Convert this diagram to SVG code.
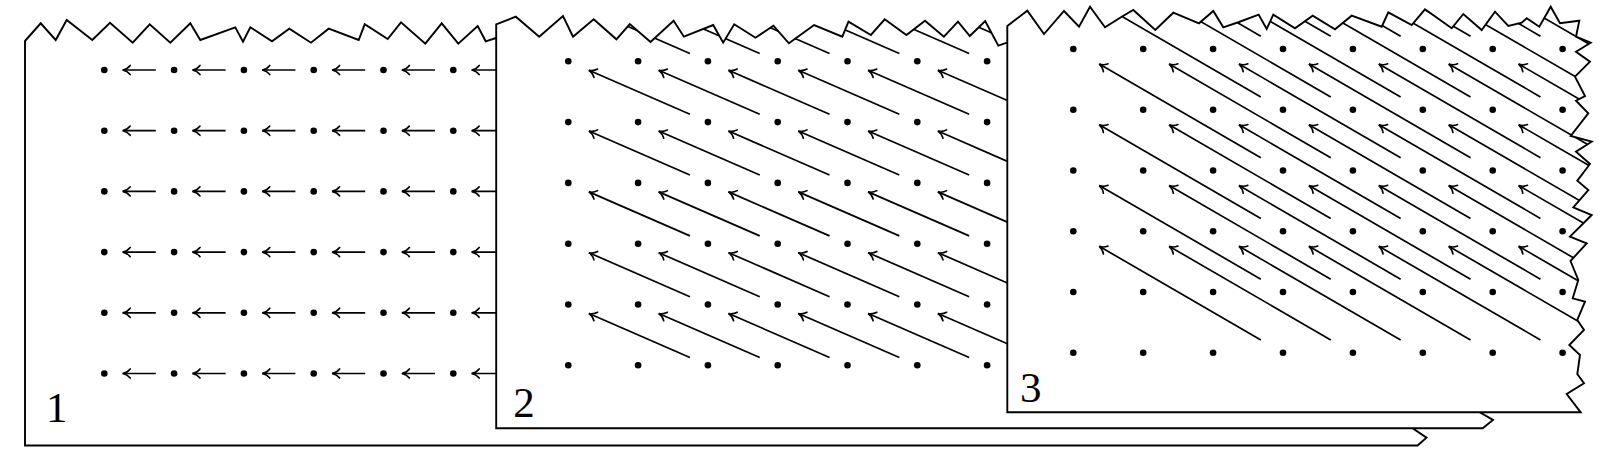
<svg xmlns="http://www.w3.org/2000/svg" xmlns:xlink="http://www.w3.org/1999/xlink" width="1604" height="462" viewBox="0 0 1604 462">
<style>
.panel{fill:#fff;stroke:#000;stroke-width:1.9;stroke-linejoin:miter}
.dot{fill:#000}
.arr{stroke:#000;stroke-width:1.7;fill:none;marker-end:url(#ah)}
.lbl{font-family:"Liberation Serif",serif;font-size:43px;text-anchor:middle;fill:#000}
</style>
<defs>
<marker id="ah" markerUnits="userSpaceOnUse" viewBox="-10 -6 12 12" markerWidth="12" markerHeight="12" refX="0" refY="0" orient="auto" overflow="visible">
<path d="M-7.5,-4.6 C-5.5,-2 -2.5,-0.5 0,0 C-2.5,0.5 -5.5,2 -7.5,4.6" fill="none" stroke="#000" stroke-width="1.6" stroke-linecap="round"/>
</marker>
<path id="s1" d="M25,41 L40.7,23.3 55.7,40 66.7,20 92.3,40 110,22.7 132.7,42.7 149.7,24.3 170.3,42.7 190.3,23.3 200.3,40 235.3,27.3 243,41.7 250.3,27.3 272,41.3 289.3,28.7 311,42.7 328.7,28.7 358.7,40 364.7,24.3 387.7,39 401,22.3 425.3,43.7 441.7,23.3 458.3,43.7 477.7,26 485.7,41.3 496,38 505,52 1405,52 1406.4,424 1426.5,437.7 1417.5,445.5 25,445.5 Z"/>
<path id="s2" d="M496.2,24.3 L515.8,16.7 539.2,36.7 563,16 573,36.7 593.7,19.3 616.4,39.3 629.8,24 650.5,42 673.6,20.7 683.9,36.7 713.2,25 723.2,42.7 734.2,24.3 755.5,37.7 773.4,25.7 788.9,43.3 814.1,25 842.3,36.7 848.5,21.7 870.9,35 884.7,19.3 906.4,35 925,20.7 943.9,36.7 958,21.7 969.8,36 985.2,21 998.3,45.7 1006.9,42.7 1020,48 1470,48 1467.3,405 1493,420 1482.7,428.3 496.2,428.3 Z"/>
<path id="s3" d="M1007.3,26 L1027.3,10.7 1044,34 1064,11 1079,26.7 1090,6.7 1105,27.3 1121.7,16.7 1133.3,10 1155.3,30 1173.3,12.7 1199,23.3 1213.3,11 1223.3,27.3 1239,22 1258.7,14.7 1266.7,29 1273.3,14.7 1295,28.3 1312.7,15.7 1335,29.3 1351.7,15.7 1381.7,26.7 1388.3,12.3 1411.7,25 1425,9.3 1451.7,28.3 1463.3,14 1481.7,30 1495,11.7 1508.3,26 1521.7,22.7 1526.7,18.3 1539.3,26.7 1550.7,6.7 1560,23.3 1579.3,20.7 1576,36.7 1590.7,42.7 1576,51.7 1590,61.7 1575,76.7 1585,96 1576,100.7 1588.3,113.3 1570.7,136 1591.7,141.7 1576,151.7 1590,164 1577.3,180.7 1588.3,190 1573.3,207.3 1591.7,215 1570,236.7 1586.7,243.3 1570.5,261 1578.3,280 1572.7,298.3 1585,301.7 1577.3,320 1584,330 1569.3,345 1580,355 1577.3,374 1584,383.3 1566.7,394 1580.7,412.3 1007.3,412.3 Z"/>
<clipPath id="cp2"><use xlink:href="#s2"/></clipPath>
<clipPath id="cp3"><use xlink:href="#s3"/></clipPath>
<line id="a1" class="arr" x1="-18.3" y1="0" x2="-51.4" y2="0"/>
<line id="a2" class="arr" x1="-17.97" y1="-7.83" x2="-118.97" y2="-51.82"/>
<line id="a3" class="arr" x1="-22.15" y1="-12.83" x2="-183.74" y2="-106.46"/>
<circle id="d" class="dot" r="3.3"/>
</defs>

<g id="panel1">
<use xlink:href="#s1" class="panel"/>
<g class="dots">
<use xlink:href="#d" x="104.3" y="70"/><use xlink:href="#d" x="174.1" y="70"/><use xlink:href="#d" x="243.9" y="70"/><use xlink:href="#d" x="313.7" y="70"/><use xlink:href="#d" x="383.5" y="70"/><use xlink:href="#d" x="453.3" y="70"/>
<use xlink:href="#d" x="104.3" y="130.7"/><use xlink:href="#d" x="174.1" y="130.7"/><use xlink:href="#d" x="243.9" y="130.7"/><use xlink:href="#d" x="313.7" y="130.7"/><use xlink:href="#d" x="383.5" y="130.7"/><use xlink:href="#d" x="453.3" y="130.7"/>
<use xlink:href="#d" x="104.3" y="191.4"/><use xlink:href="#d" x="174.1" y="191.4"/><use xlink:href="#d" x="243.9" y="191.4"/><use xlink:href="#d" x="313.7" y="191.4"/><use xlink:href="#d" x="383.5" y="191.4"/><use xlink:href="#d" x="453.3" y="191.4"/>
<use xlink:href="#d" x="104.3" y="252.1"/><use xlink:href="#d" x="174.1" y="252.1"/><use xlink:href="#d" x="243.9" y="252.1"/><use xlink:href="#d" x="313.7" y="252.1"/><use xlink:href="#d" x="383.5" y="252.1"/><use xlink:href="#d" x="453.3" y="252.1"/>
<use xlink:href="#d" x="104.3" y="312.8"/><use xlink:href="#d" x="174.1" y="312.8"/><use xlink:href="#d" x="243.9" y="312.8"/><use xlink:href="#d" x="313.7" y="312.8"/><use xlink:href="#d" x="383.5" y="312.8"/><use xlink:href="#d" x="453.3" y="312.8"/>
<use xlink:href="#d" x="104.3" y="373.5"/><use xlink:href="#d" x="174.1" y="373.5"/><use xlink:href="#d" x="243.9" y="373.5"/><use xlink:href="#d" x="313.7" y="373.5"/><use xlink:href="#d" x="383.5" y="373.5"/><use xlink:href="#d" x="453.3" y="373.5"/>
</g>
<text class="lbl" x="56.7" y="422">1</text>
</g>
<g id="panel1-connectors">
<use xlink:href="#a1" x="174.1" y="70"/><use xlink:href="#a1" x="243.9" y="70"/><use xlink:href="#a1" x="313.7" y="70"/><use xlink:href="#a1" x="383.5" y="70"/><use xlink:href="#a1" x="453.3" y="70"/><use xlink:href="#a1" x="523.1" y="70"/>
<use xlink:href="#a1" x="174.1" y="130.7"/><use xlink:href="#a1" x="243.9" y="130.7"/><use xlink:href="#a1" x="313.7" y="130.7"/><use xlink:href="#a1" x="383.5" y="130.7"/><use xlink:href="#a1" x="453.3" y="130.7"/><use xlink:href="#a1" x="523.1" y="130.7"/>
<use xlink:href="#a1" x="174.1" y="191.4"/><use xlink:href="#a1" x="243.9" y="191.4"/><use xlink:href="#a1" x="313.7" y="191.4"/><use xlink:href="#a1" x="383.5" y="191.4"/><use xlink:href="#a1" x="453.3" y="191.4"/><use xlink:href="#a1" x="523.1" y="191.4"/>
<use xlink:href="#a1" x="174.1" y="252.1"/><use xlink:href="#a1" x="243.9" y="252.1"/><use xlink:href="#a1" x="313.7" y="252.1"/><use xlink:href="#a1" x="383.5" y="252.1"/><use xlink:href="#a1" x="453.3" y="252.1"/><use xlink:href="#a1" x="523.1" y="252.1"/>
<use xlink:href="#a1" x="174.1" y="312.8"/><use xlink:href="#a1" x="243.9" y="312.8"/><use xlink:href="#a1" x="313.7" y="312.8"/><use xlink:href="#a1" x="383.5" y="312.8"/><use xlink:href="#a1" x="453.3" y="312.8"/><use xlink:href="#a1" x="523.1" y="312.8"/>
<use xlink:href="#a1" x="174.1" y="373.5"/><use xlink:href="#a1" x="243.9" y="373.5"/><use xlink:href="#a1" x="313.7" y="373.5"/><use xlink:href="#a1" x="383.5" y="373.5"/><use xlink:href="#a1" x="453.3" y="373.5"/><use xlink:href="#a1" x="523.1" y="373.5"/>
</g>

<g id="panel2">
<use xlink:href="#s2" class="panel"/>
<g class="dots">
<use xlink:href="#d" x="568.3" y="61.3"/><use xlink:href="#d" x="638.1" y="61.3"/><use xlink:href="#d" x="707.9" y="61.3"/><use xlink:href="#d" x="777.7" y="61.3"/><use xlink:href="#d" x="847.5" y="61.3"/><use xlink:href="#d" x="917.3" y="61.3"/><use xlink:href="#d" x="987.1" y="61.3"/>
<use xlink:href="#d" x="568.3" y="122.1"/><use xlink:href="#d" x="638.1" y="122.1"/><use xlink:href="#d" x="707.9" y="122.1"/><use xlink:href="#d" x="777.7" y="122.1"/><use xlink:href="#d" x="847.5" y="122.1"/><use xlink:href="#d" x="917.3" y="122.1"/><use xlink:href="#d" x="987.1" y="122.1"/>
<use xlink:href="#d" x="568.3" y="182.9"/><use xlink:href="#d" x="638.1" y="182.9"/><use xlink:href="#d" x="707.9" y="182.9"/><use xlink:href="#d" x="777.7" y="182.9"/><use xlink:href="#d" x="847.5" y="182.9"/><use xlink:href="#d" x="917.3" y="182.9"/><use xlink:href="#d" x="987.1" y="182.9"/>
<use xlink:href="#d" x="568.3" y="243.7"/><use xlink:href="#d" x="638.1" y="243.7"/><use xlink:href="#d" x="707.9" y="243.7"/><use xlink:href="#d" x="777.7" y="243.7"/><use xlink:href="#d" x="847.5" y="243.7"/><use xlink:href="#d" x="917.3" y="243.7"/><use xlink:href="#d" x="987.1" y="243.7"/>
<use xlink:href="#d" x="568.3" y="304.5"/><use xlink:href="#d" x="638.1" y="304.5"/><use xlink:href="#d" x="707.9" y="304.5"/><use xlink:href="#d" x="777.7" y="304.5"/><use xlink:href="#d" x="847.5" y="304.5"/><use xlink:href="#d" x="917.3" y="304.5"/><use xlink:href="#d" x="987.1" y="304.5"/>
<use xlink:href="#d" x="568.3" y="365.3"/><use xlink:href="#d" x="638.1" y="365.3"/><use xlink:href="#d" x="707.9" y="365.3"/><use xlink:href="#d" x="777.7" y="365.3"/><use xlink:href="#d" x="847.5" y="365.3"/><use xlink:href="#d" x="917.3" y="365.3"/><use xlink:href="#d" x="987.1" y="365.3"/>
</g>
<text class="lbl" x="524" y="416.5">2</text>
</g>
<g id="panel2-connectors" clip-path="url(#cp2)">
<use xlink:href="#a2" x="707.9" y="61.3"/><use xlink:href="#a2" x="777.7" y="61.3"/><use xlink:href="#a2" x="847.5" y="61.3"/><use xlink:href="#a2" x="917.3" y="61.3"/><use xlink:href="#a2" x="987.1" y="61.3"/><use xlink:href="#a2" x="1056.9" y="61.3"/><use xlink:href="#a2" x="1126.7" y="61.3"/>
<use xlink:href="#a2" x="707.9" y="122.1"/><use xlink:href="#a2" x="777.7" y="122.1"/><use xlink:href="#a2" x="847.5" y="122.1"/><use xlink:href="#a2" x="917.3" y="122.1"/><use xlink:href="#a2" x="987.1" y="122.1"/><use xlink:href="#a2" x="1056.9" y="122.1"/><use xlink:href="#a2" x="1126.7" y="122.1"/>
<use xlink:href="#a2" x="707.9" y="182.9"/><use xlink:href="#a2" x="777.7" y="182.9"/><use xlink:href="#a2" x="847.5" y="182.9"/><use xlink:href="#a2" x="917.3" y="182.9"/><use xlink:href="#a2" x="987.1" y="182.9"/><use xlink:href="#a2" x="1056.9" y="182.9"/><use xlink:href="#a2" x="1126.7" y="182.9"/>
<use xlink:href="#a2" x="707.9" y="243.7"/><use xlink:href="#a2" x="777.7" y="243.7"/><use xlink:href="#a2" x="847.5" y="243.7"/><use xlink:href="#a2" x="917.3" y="243.7"/><use xlink:href="#a2" x="987.1" y="243.7"/><use xlink:href="#a2" x="1056.9" y="243.7"/><use xlink:href="#a2" x="1126.7" y="243.7"/>
<use xlink:href="#a2" x="707.9" y="304.5"/><use xlink:href="#a2" x="777.7" y="304.5"/><use xlink:href="#a2" x="847.5" y="304.5"/><use xlink:href="#a2" x="917.3" y="304.5"/><use xlink:href="#a2" x="987.1" y="304.5"/><use xlink:href="#a2" x="1056.9" y="304.5"/><use xlink:href="#a2" x="1126.7" y="304.5"/>
<use xlink:href="#a2" x="707.9" y="365.3"/><use xlink:href="#a2" x="777.7" y="365.3"/><use xlink:href="#a2" x="847.5" y="365.3"/><use xlink:href="#a2" x="917.3" y="365.3"/><use xlink:href="#a2" x="987.1" y="365.3"/><use xlink:href="#a2" x="1056.9" y="365.3"/><use xlink:href="#a2" x="1126.7" y="365.3"/>
</g>

<g id="panel3">
<use xlink:href="#s3" class="panel"/>
<g class="dots">
<use xlink:href="#d" x="1073.3" y="49"/><use xlink:href="#d" x="1143.2" y="49"/><use xlink:href="#d" x="1213.1" y="49"/><use xlink:href="#d" x="1283" y="49"/><use xlink:href="#d" x="1352.9" y="49"/><use xlink:href="#d" x="1422.8" y="49"/><use xlink:href="#d" x="1492.7" y="49"/><use xlink:href="#d" x="1562.6" y="49"/>
<use xlink:href="#d" x="1073.3" y="109.75"/><use xlink:href="#d" x="1143.2" y="109.75"/><use xlink:href="#d" x="1213.1" y="109.75"/><use xlink:href="#d" x="1283" y="109.75"/><use xlink:href="#d" x="1352.9" y="109.75"/><use xlink:href="#d" x="1422.8" y="109.75"/><use xlink:href="#d" x="1492.7" y="109.75"/><use xlink:href="#d" x="1562.6" y="109.75"/>
<use xlink:href="#d" x="1073.3" y="170.5"/><use xlink:href="#d" x="1143.2" y="170.5"/><use xlink:href="#d" x="1213.1" y="170.5"/><use xlink:href="#d" x="1283" y="170.5"/><use xlink:href="#d" x="1352.9" y="170.5"/><use xlink:href="#d" x="1422.8" y="170.5"/><use xlink:href="#d" x="1492.7" y="170.5"/><use xlink:href="#d" x="1562.6" y="170.5"/>
<use xlink:href="#d" x="1073.3" y="231.25"/><use xlink:href="#d" x="1143.2" y="231.25"/><use xlink:href="#d" x="1213.1" y="231.25"/><use xlink:href="#d" x="1283" y="231.25"/><use xlink:href="#d" x="1352.9" y="231.25"/><use xlink:href="#d" x="1422.8" y="231.25"/><use xlink:href="#d" x="1492.7" y="231.25"/><use xlink:href="#d" x="1562.6" y="231.25"/>
<use xlink:href="#d" x="1073.3" y="292"/><use xlink:href="#d" x="1143.2" y="292"/><use xlink:href="#d" x="1213.1" y="292"/><use xlink:href="#d" x="1283" y="292"/><use xlink:href="#d" x="1352.9" y="292"/><use xlink:href="#d" x="1422.8" y="292"/><use xlink:href="#d" x="1492.7" y="292"/><use xlink:href="#d" x="1562.6" y="292"/>
<use xlink:href="#d" x="1073.3" y="352.75"/><use xlink:href="#d" x="1143.2" y="352.75"/><use xlink:href="#d" x="1213.1" y="352.75"/><use xlink:href="#d" x="1283" y="352.75"/><use xlink:href="#d" x="1352.9" y="352.75"/><use xlink:href="#d" x="1422.8" y="352.75"/><use xlink:href="#d" x="1492.7" y="352.75"/><use xlink:href="#d" x="1562.6" y="352.75"/>
</g>
<text class="lbl" x="1030.8" y="402">3</text>
</g>
<g id="panel3-connectors" clip-path="url(#cp3)">
<use xlink:href="#a3" x="1283" y="49"/><use xlink:href="#a3" x="1352.9" y="49"/><use xlink:href="#a3" x="1422.8" y="49"/><use xlink:href="#a3" x="1492.7" y="49"/><use xlink:href="#a3" x="1562.6" y="49"/><use xlink:href="#a3" x="1632.5" y="49"/><use xlink:href="#a3" x="1702.4" y="49"/><use xlink:href="#a3" x="1772.3" y="49"/>
<use xlink:href="#a3" x="1283" y="109.75"/><use xlink:href="#a3" x="1352.9" y="109.75"/><use xlink:href="#a3" x="1422.8" y="109.75"/><use xlink:href="#a3" x="1492.7" y="109.75"/><use xlink:href="#a3" x="1562.6" y="109.75"/><use xlink:href="#a3" x="1632.5" y="109.75"/><use xlink:href="#a3" x="1702.4" y="109.75"/><use xlink:href="#a3" x="1772.3" y="109.75"/>
<use xlink:href="#a3" x="1283" y="170.5"/><use xlink:href="#a3" x="1352.9" y="170.5"/><use xlink:href="#a3" x="1422.8" y="170.5"/><use xlink:href="#a3" x="1492.7" y="170.5"/><use xlink:href="#a3" x="1562.6" y="170.5"/><use xlink:href="#a3" x="1632.5" y="170.5"/><use xlink:href="#a3" x="1702.4" y="170.5"/><use xlink:href="#a3" x="1772.3" y="170.5"/>
<use xlink:href="#a3" x="1283" y="231.25"/><use xlink:href="#a3" x="1352.9" y="231.25"/><use xlink:href="#a3" x="1422.8" y="231.25"/><use xlink:href="#a3" x="1492.7" y="231.25"/><use xlink:href="#a3" x="1562.6" y="231.25"/><use xlink:href="#a3" x="1632.5" y="231.25"/><use xlink:href="#a3" x="1702.4" y="231.25"/><use xlink:href="#a3" x="1772.3" y="231.25"/>
<use xlink:href="#a3" x="1283" y="292"/><use xlink:href="#a3" x="1352.9" y="292"/><use xlink:href="#a3" x="1422.8" y="292"/><use xlink:href="#a3" x="1492.7" y="292"/><use xlink:href="#a3" x="1562.6" y="292"/><use xlink:href="#a3" x="1632.5" y="292"/><use xlink:href="#a3" x="1702.4" y="292"/><use xlink:href="#a3" x="1772.3" y="292"/>
<use xlink:href="#a3" x="1283" y="352.75"/><use xlink:href="#a3" x="1352.9" y="352.75"/><use xlink:href="#a3" x="1422.8" y="352.75"/><use xlink:href="#a3" x="1492.7" y="352.75"/><use xlink:href="#a3" x="1562.6" y="352.75"/><use xlink:href="#a3" x="1632.5" y="352.75"/><use xlink:href="#a3" x="1702.4" y="352.75"/><use xlink:href="#a3" x="1772.3" y="352.75"/>
</g>
</svg>
